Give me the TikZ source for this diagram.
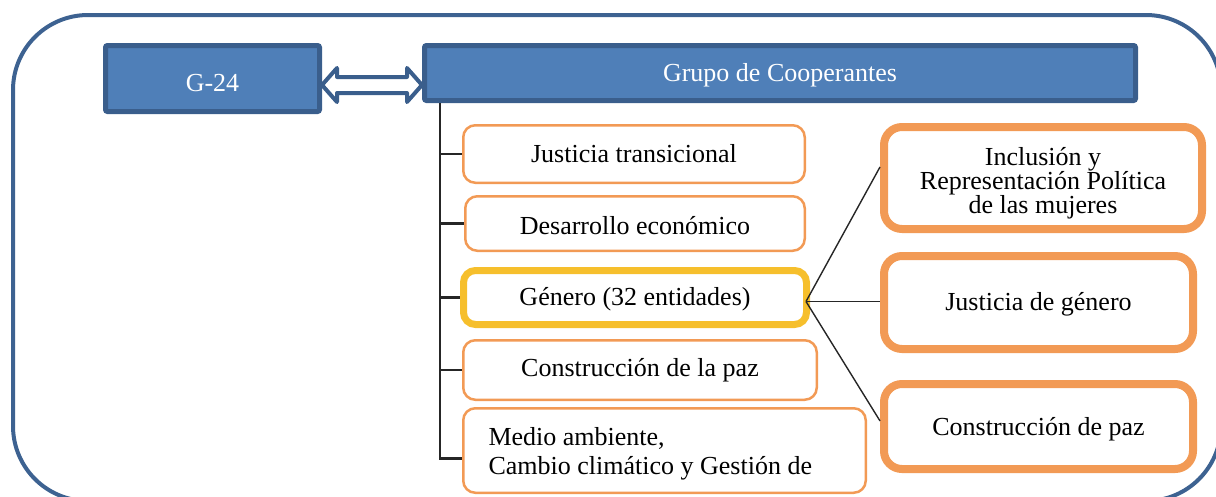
\documentclass[tikz,border=0pt]{standalone}
\usepackage{fontspec}
\setmainfont{Liberation Serif}
\usetikzlibrary{calc}
\definecolor{frameblue}{HTML}{3D6291}
\definecolor{boxblue}{HTML}{4F7FB8}
\definecolor{boxedge}{HTML}{3A5E8C}
\definecolor{orng}{HTML}{F29A55}
\definecolor{goldy}{HTML}{F6BF2C}
\begin{document}
\begin{tikzpicture}[x=1pt,y=-1pt,
  font=\fontsize{26}{30}\selectfont,
  bluebox/.style={draw=boxedge, fill=boxblue, line width=5pt, rounded corners=2pt,
    text=white, anchor=north west, inner sep=0pt},
  thinbox/.style={draw=orng, line width=2.5pt, rounded corners=12pt,
    anchor=north west, inner sep=0pt, align=center},
  goldbox/.style={draw=goldy, line width=7pt, rounded corners=12pt,
    anchor=north west, inner sep=0pt, align=center},
  thickbox/.style={draw=orng, line width=8pt, rounded corners=18pt,
    anchor=north west, inner sep=0pt, align=center},
  tree/.style={draw=black!85, line width=2.5pt},
  conn/.style={draw=black!85, line width=1.4pt},
  dblarrow/.style={draw=boxedge, fill=white, line width=4pt, line join=round}]
\useasboundingbox (0,0) rectangle (1216,496);
\clip (0,0) rectangle (1216,496);
% outer frame
\draw[frameblue, line width=4pt, rounded corners=75pt] (13,15) rectangle (1221,501);
% top boxes
\node[bluebox, minimum width=214pt, minimum height=66pt] (g24) at (103,43) {\rule{0pt}{27pt}G-24};
\node[bluebox, minimum width=711pt, minimum height=55pt] (grupo) at (422,43) {\rule{0pt}{22pt}Grupo de Cooperantes};
% left column
\node[thinbox, minimum width=341.5pt, minimum height=57.5pt] (b1) at (462,124) {Justicia transicional};
\node[thinbox, minimum width=339.5pt, minimum height=54.5pt] (b2) at (464,195) {\rule{0pt}{22pt}Desarrollo económico};
\node[goldbox, minimum width=343pt, minimum height=54pt] (b3) at (460,267) {\rule{0pt}{22pt}Género (32 entidades)};
\node[thinbox, minimum width=353.5pt, minimum height=59.5pt] (b4) at (462,339) {Construcción de la paz};
\node[thinbox, minimum width=402.5pt, minimum height=84.5pt, align=flush left,
  inner xsep=25pt, text width=352pt, font=\fontsize{26}{29}\selectfont] (b5) at (462,407)
  {\rule{0pt}{24pt}Medio ambiente,\\Cambio climático y Gestión de};
% right column
\node[thickbox, minimum width=318pt, minimum height=102pt, font=\fontsize{26}{24}\selectfont] (A) at (880,123)
  {\rule{0pt}{28pt}Inclusión y\\Representación Política\\de las mujeres};
\node[thickbox, minimum width=309pt, minimum height=93pt] (B) at (880,252) {\rule{0pt}{22pt}Justicia de género};
\node[thickbox, minimum width=309pt, minimum height=85pt] (C) at (880,380) {\rule{0pt}{24pt}Construcción de paz};
% double arrow
\coordinate (y85) at (0,85);
\coordinate (aL) at (g24.east |- y85);
\coordinate (aR) at (grupo.west |- y85);
\draw[dblarrow] (aL) -- ++(15,-17) -- ++(0,9) -- ($(aR)+(-15,-8)$) -- ++(0,-9) -- (aR)
  -- ++(-15,17) -- ++(0,-9) -- ($(aL)+(15,8)$) -- ++(0,9) -- cycle;
% tree
\coordinate (tt) at ($(grupo.south west)+(18,0)$);
\coordinate (e5) at ($(b5.west)+(0,8)$);
\draw[tree] (tt) |- (e5);
\draw[tree] (tt |- b1.west) -- (b1.west);
\draw[tree] (tt |- b2.west) -- (b2.west);
\draw[tree] (tt |- b3.west) -- (b3.west);
\draw[tree] (tt |- b4.west) -- (b4.west);
% connectors from Genero
\coordinate (gx) at ($(b3.east)+(-4,4)$);
\draw[conn] (gx) -- ($(A.north west)!0.4!(A.south west)$);
\draw[conn] (gx) -- (gx -| B.west);
\draw[conn] (gx) -- ($(C.north west)!0.44!(C.south west)$);
\end{tikzpicture}
\end{document}
